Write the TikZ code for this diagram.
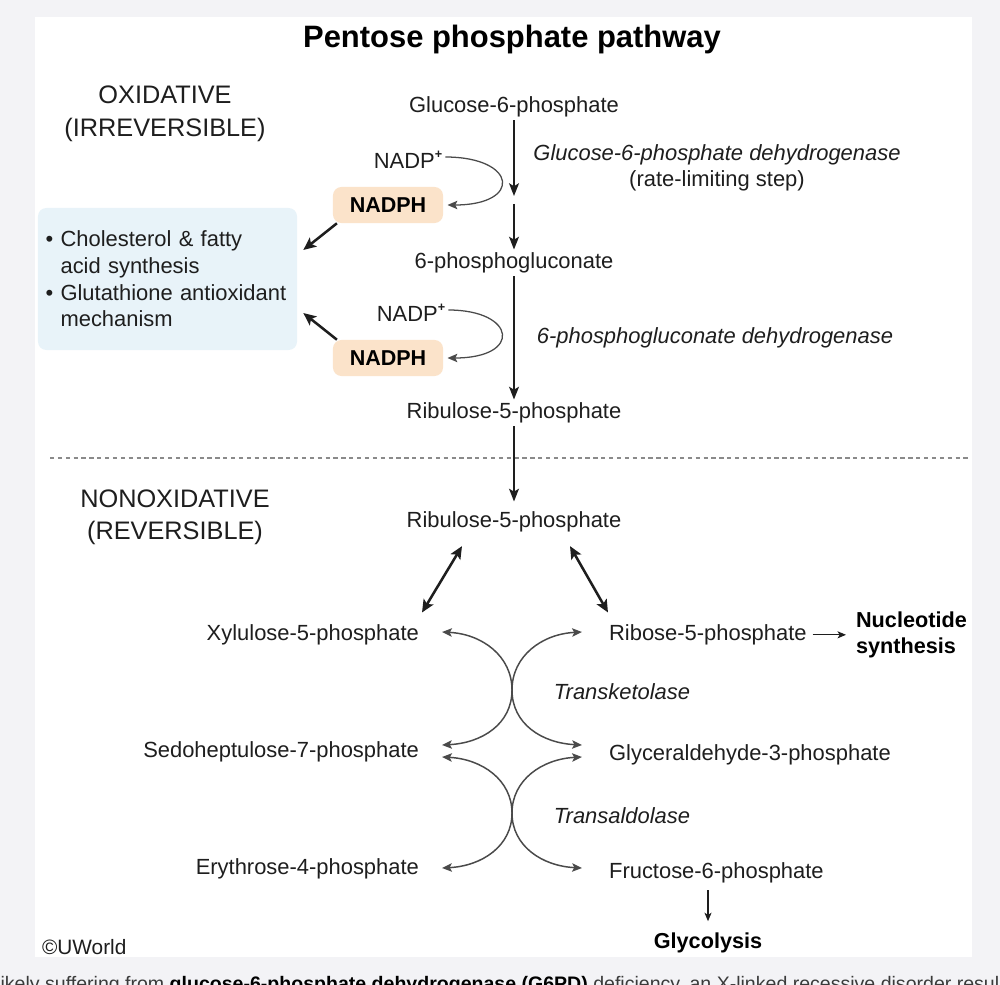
\documentclass[tikz,border=0pt]{standalone}
\usepackage{fontspec}
\setmainfont{Liberation Sans}
\usetikzlibrary{arrows.meta, positioning, calc}
\definecolor{inkgray}{HTML}{1E1E1E}
\definecolor{pagegray}{HTML}{F3F3F6}
\definecolor{cofpeach}{HTML}{FBE3CA}
\definecolor{useblue}{HTML}{E8F3F9}
\definecolor{curvegray}{HTML}{4A4A4A}
\definecolor{dashgray}{HTML}{8A8A8A}
\definecolor{capgray}{HTML}{3A3A3A}
\newcommand{\plus}{\raisebox{0.85ex}{\fontsize{9}{9}\selectfont\bfseries +}}

\begin{document}
\begin{tikzpicture}[
  x=0.025cm, y=-0.025cm,
  ttl/.style={font=\fontsize{22}{26}\selectfont\bfseries, text=black, yshift=-2pt},
  hdr/.style={font=\fontsize{18}{22.8}\selectfont, text=inkgray, align=center, yshift=-2pt},
  met/.style={font=\fontsize{15.6}{18.5}\selectfont, text=inkgray, inner sep=2pt, yshift=-2pt},
  enz/.style={font=\fontsize{15.6}{18.5}\selectfont\itshape, text=inkgray, align=center, yshift=-2pt},
  prod/.style={font=\fontsize{15.4}{18}\selectfont\bfseries, text=black, align=left, inner sep=2pt, yshift=-2pt},
  cof/.style={rectangle, fill=cofpeach, rounded corners=6pt,
              minimum width=2.75cm, minimum height=0.9cm,
              font=\fontsize{15.3}{18}\selectfont\bfseries, text=black},
  usebox/.style={rectangle, fill=useblue, rounded corners=6pt,
              minimum width=6.475cm, minimum height=3.55cm,
              inner xsep=0.19cm, text width=6.095cm, align=left,
              font=\fontsize{15.6}{19}\selectfont, text=inkgray},
  arr/.style={-{Stealth[length=9pt, width=7pt, inset=2pt]}, line width=1.4pt, draw=inkgray},
  fat/.style={-{Stealth[length=9pt, width=8pt, inset=2pt]}, line width=1.8pt, draw=inkgray},
  dbl/.style={{Stealth[length=9pt, width=8pt, inset=2pt]}-{Stealth[length=9pt, width=8pt, inset=2pt]},
              line width=1.8pt, draw=inkgray},
  cyc/.style={-{Stealth[length=7pt, width=6pt, inset=1.5pt]}, line width=0.9pt, draw=curvegray},
  cur/.style={{Stealth[length=7pt, width=6pt, inset=1.5pt]}-{Stealth[length=7pt, width=6pt, inset=1.5pt]},
              line width=1.05pt, draw=curvegray},
  thin/.style={-{Stealth[length=6pt, width=5pt, inset=1.5pt]}, line width=0.8pt, draw=inkgray},
  sep/.style={draw=dashgray, line width=1.1pt, dash pattern=on 3pt off 2.6pt},
]
\useasboundingbox (0,0) rectangle (1000,985);

%% --- page and panel ---
\fill[pagegray] (0,0) rectangle (1000,985);
\fill[white] (35,17) rectangle (972,957);

\node[ttl] (title) at (512,37) {Pentose phosphate pathway};

%% --- oxidative part ---
\node[hdr] (oxi) at (165,111) {OXIDATIVE\\(IRREVERSIBLE)};

\node[met] (g6p) at (514,104) {Glucose-6-phosphate};
\node[met] (pg6) at (514,260) {6-phosphogluconate};
\node[met] (ru5a) at (514,410) {Ribulose-5-phosphate};

\node[enz] (g6pd) at (717,165) {Glucose-6-phosphate dehydrogenase\\{\upshape(rate-limiting step)}};
\node[enz] (pgd) at (715,335) {6-phosphogluconate dehydrogenase};

\node[met] (nadp1) at (408,157) {NADP\plus};
\node[cof] (nadph1) at (388,205) {NADPH};
\node[met] (nadp2) at (411,310) {NADP\plus};
\node[cof] (nadph2) at (388,358) {NADPH};

\node[usebox] (use) at (167.5,279)
  {\textbullet\ Cholesterol \& fatty\\
   \phantom{\textbullet\ }acid synthesis\\
   \textbullet\ Glutathione antioxidant\\
   \phantom{\textbullet\ }mechanism};

\coordinate (k1) at (514,196);
\coordinate (k2) at (514,204);

\draw[arr] (g6p) -- (k1);
\draw[arr] (k2) -- (pg6);
\draw[arr] (pg6) -- (ru5a);

\draw[cyc] ([yshift=2pt]nadp1.east) .. controls +(72,0) and +(75,0) .. ([xshift=3pt]nadph1.east);
\draw[cyc] ([yshift=2pt]nadp2.east) .. controls +(68,0) and +(75,0) .. ([xshift=3pt]nadph2.east);

\draw[fat] ([xshift=3pt]nadph1.south west) -- ([shift={(6,-29)}]use.east);
\draw[fat] ([xshift=3pt]nadph2.north west) -- ([shift={(6,34)}]use.east);

%% --- divider ---
\draw[sep] (50,458) -- (970,458);

%% --- nonoxidative part ---
\node[hdr] (nonoxi) at (175,514) {NONOXIDATIVE\\(REVERSIBLE)};

\node[met] (ru5b) at (514,519) {Ribulose-5-phosphate};
\draw[arr, shorten >=5pt] (ru5a) -- (ru5b);

\node[met, anchor=east] (xyl) at (422,632) {Xylulose-5-phosphate};
\node[met, anchor=east] (sed) at (422,749) {Sedoheptulose-7-phosphate};
\node[met, anchor=east] (ery) at (422,866) {Erythrose-4-phosphate};
\node[met, anchor=west] (rib) at (606,632) {Ribose-5-phosphate};
\node[met, anchor=west] (ga3p) at (606,752) {Glyceraldehyde-3-phosphate};
\node[met, anchor=west] (f6p) at (606,870) {Fructose-6-phosphate};

\draw[dbl] ([shift={(-52,11)}]ru5b.south) -- ([shift={(0,-9)}]xyl.north east);
\draw[dbl] ([shift={(56,11)}]ru5b.south) -- ([shift={(2,-9)}]rib.north west);

\node[enz] (tkl) at (622,689) {Transketolase};
\node[enz] (tal) at (622,813) {Transaldolase};

\coordinate (xl) at (442,632);
\coordinate (rr) at (582,632);
\coordinate (tk) at (512,690);
\coordinate (sl1) at (442,745);
\coordinate (gr1) at (582,745);
\coordinate (sl2) at (442,757);
\coordinate (gr2) at (582,757);
\coordinate (ta) at (512,813);
\coordinate (el) at (442,868);
\coordinate (fr) at (582,868);

\draw[cur] (xl) .. controls (482,634) and (512,656) .. (tk) .. controls (512,724) and (542,743) .. (gr1);
\draw[cur] (rr) .. controls (542,634) and (512,656) .. (tk) .. controls (512,724) and (482,743) .. (sl1);
\draw[cur] (sl2) .. controls (482,759) and (512,780) .. (ta) .. controls (512,846) and (542,866) .. (fr);
\draw[cur] (gr2) .. controls (542,759) and (512,780) .. (ta) .. controls (512,846) and (482,866) .. (el);

\node[prod, anchor=west] (nuc) at (853,632) {Nucleotide\\synthesis};
\draw[thin, shorten <=2pt, shorten >=5pt] (rib) -- (nuc);

\node[prod] (gly) at (708,940) {Glycolysis};
\draw[thin, shorten <=3pt, shorten >=6pt] (f6p.south -| gly.north) -- (gly.north);

\node[met, anchor=west, font=\fontsize{14.8}{17}\selectfont] (uw) at (39,944) {©UWorld};

%% --- caption below the panel ---
\node[anchor=base west, inner sep=0pt, font=\fontsize{13.9}{16}\selectfont, text=capgray] (cap) at (-4,990)
  {likely suffering from {\color{black}\bfseries glucose-6-phosphate dehydrogenase (G6PD)} deficiency, an X-linked recessive disorder resul};
\end{tikzpicture}
\end{document}
